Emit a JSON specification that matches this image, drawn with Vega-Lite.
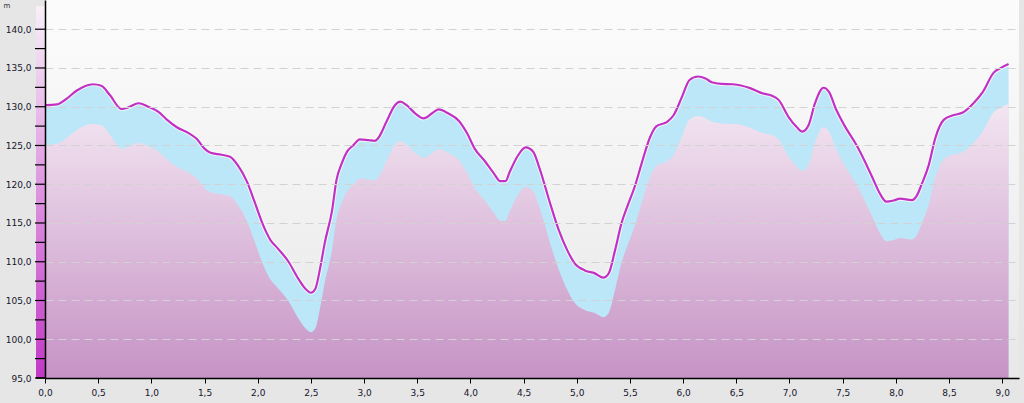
{
  "$schema": "https://vega.github.io/schema/vega-lite/v6.json",
  "width": 974,
  "height": 378,
  "autosize": {"type": "none"},
  "padding": {"left": 45, "top": 0, "right": 5, "bottom": 25},
  "background": "#e6e6e6",
  "config": {
    "locale": {"number": {"decimal": ",", "thousands": ".", "grouping": [3], "currency": ["", " €"]}},
    "view": {"stroke": null, "fill": {"gradient": "linear", "x1": 0, "y1": 0, "x2": 0, "y2": 1, "stops": [{"offset": 0, "color": "#fcfcfc"}, {"offset": 1, "color": "#e8e8e8"}]}}
  },
  "datasets": {
    "profile": [
      {"d":0.00,"upper":130.2,"lower":125.1},{"d":0.11,"upper":130.3,"lower":125.2},{"d":0.19,"upper":130.9,"lower":125.8},{"d":0.30,"upper":132.1,"lower":127.0},{"d":0.45,"upper":132.9,"lower":127.8},{"d":0.53,"upper":132.7,"lower":127.6},{"d":0.61,"upper":131.5,"lower":126.4},{"d":0.72,"upper":129.7,"lower":124.6},{"d":0.78,"upper":129.9,"lower":124.8},{"d":0.88,"upper":130.45,"lower":125.35},{"d":0.97,"upper":130.0,"lower":124.9},{"d":1.07,"upper":129.3,"lower":124.2},{"d":1.14,"upper":128.4,"lower":123.3},{"d":1.24,"upper":127.35,"lower":122.25},{"d":1.35,"upper":126.6,"lower":121.5},{"d":1.43,"upper":125.8,"lower":120.7},{"d":1.50,"upper":124.6,"lower":119.5},{"d":1.55,"upper":124.1,"lower":119.0},{"d":1.66,"upper":123.8,"lower":118.7},{"d":1.74,"upper":123.55,"lower":118.45},{"d":1.82,"upper":122.3,"lower":117.2},{"d":1.90,"upper":120.3,"lower":115.2},{"d":1.97,"upper":117.75,"lower":112.65},{"d":2.05,"upper":114.75,"lower":109.65},{"d":2.12,"upper":112.8,"lower":107.7},{"d":2.18,"upper":111.85,"lower":106.75},{"d":2.29,"upper":110.0,"lower":104.9},{"d":2.38,"upper":107.85,"lower":102.75},{"d":2.46,"upper":106.35,"lower":101.25},{"d":2.50,"upper":106.0,"lower":100.9},{"d":2.54,"upper":106.45,"lower":101.35},{"d":2.59,"upper":109.4,"lower":104.3},{"d":2.63,"upper":112.4,"lower":107.3},{"d":2.70,"upper":116.7,"lower":111.6},{"d":2.74,"upper":120.5,"lower":115.4},{"d":2.79,"upper":122.7,"lower":117.6},{"d":2.84,"upper":124.2,"lower":119.1},{"d":2.90,"upper":125.05,"lower":119.95},{"d":2.96,"upper":125.8,"lower":120.7},{"d":3.04,"upper":125.7,"lower":120.6},{"d":3.10,"upper":125.6,"lower":120.5},{"d":3.13,"upper":125.9,"lower":120.8},{"d":3.21,"upper":128.05,"lower":122.95},{"d":3.29,"upper":130.2,"lower":125.1},{"d":3.34,"upper":130.65,"lower":125.55},{"d":3.40,"upper":130.2,"lower":125.1},{"d":3.48,"upper":129.15,"lower":124.05},{"d":3.56,"upper":128.5,"lower":123.4},{"d":3.64,"upper":129.15,"lower":124.05},{"d":3.70,"upper":129.65,"lower":124.55},{"d":3.79,"upper":129.15,"lower":124.05},{"d":3.89,"upper":128.2,"lower":123.1},{"d":3.97,"upper":126.55,"lower":121.45},{"d":4.04,"upper":124.6,"lower":119.5},{"d":4.14,"upper":122.9,"lower":117.8},{"d":4.22,"upper":121.4,"lower":116.3},{"d":4.28,"upper":120.4,"lower":115.3},{"d":4.33,"upper":120.4,"lower":115.3},{"d":4.37,"upper":121.6,"lower":116.5},{"d":4.44,"upper":123.55,"lower":118.45},{"d":4.52,"upper":124.75,"lower":119.65},{"d":4.59,"upper":124.2,"lower":119.1},{"d":4.65,"upper":122.05,"lower":116.95},{"d":4.75,"upper":117.5,"lower":112.4},{"d":4.83,"upper":114.1,"lower":109.0},{"d":4.91,"upper":111.5,"lower":106.4},{"d":4.98,"upper":109.8,"lower":104.7},{"d":5.08,"upper":108.85,"lower":103.75},{"d":5.17,"upper":108.5,"lower":103.4},{"d":5.25,"upper":107.95,"lower":102.85},{"d":5.30,"upper":108.5,"lower":103.4},{"d":5.36,"upper":111.5,"lower":106.4},{"d":5.42,"upper":114.95,"lower":109.85},{"d":5.48,"upper":117.3,"lower":112.2},{"d":5.55,"upper":119.9,"lower":114.8},{"d":5.61,"upper":122.7,"lower":117.6},{"d":5.69,"upper":126.1,"lower":121.0},{"d":5.75,"upper":127.5,"lower":122.4},{"d":5.85,"upper":128.05,"lower":122.95},{"d":5.91,"upper":128.9,"lower":123.8},{"d":5.99,"upper":131.3,"lower":126.2},{"d":6.06,"upper":133.45,"lower":128.35},{"d":6.14,"upper":133.9,"lower":128.8},{"d":6.21,"upper":133.65,"lower":128.55},{"d":6.27,"upper":133.15,"lower":128.05},{"d":6.36,"upper":132.95,"lower":127.85},{"d":6.47,"upper":132.9,"lower":127.8},{"d":6.63,"upper":132.4,"lower":127.3},{"d":6.74,"upper":131.75,"lower":126.65},{"d":6.83,"upper":131.45,"lower":126.35},{"d":6.90,"upper":130.85,"lower":125.75},{"d":6.99,"upper":128.7,"lower":123.6},{"d":7.07,"upper":127.35,"lower":122.25},{"d":7.12,"upper":126.8,"lower":121.7},{"d":7.18,"upper":127.65,"lower":122.55},{"d":7.24,"upper":130.45,"lower":125.35},{"d":7.32,"upper":132.45,"lower":127.35},{"d":7.37,"upper":131.95,"lower":126.85},{"d":7.44,"upper":129.6,"lower":124.5},{"d":7.52,"upper":127.5,"lower":122.4},{"d":7.63,"upper":125.05,"lower":119.95},{"d":7.71,"upper":122.9,"lower":117.8},{"d":7.79,"upper":120.55,"lower":115.45},{"d":7.85,"upper":118.8,"lower":113.7},{"d":7.91,"upper":117.75,"lower":112.65},{"d":7.98,"upper":117.9,"lower":112.8},{"d":8.04,"upper":118.15,"lower":113.05},{"d":8.15,"upper":117.95,"lower":112.85},{"d":8.20,"upper":118.6,"lower":113.5},{"d":8.24,"upper":119.9,"lower":114.8},{"d":8.31,"upper":122.5,"lower":117.4},{"d":8.37,"upper":125.9,"lower":120.8},{"d":8.45,"upper":128.3,"lower":123.2},{"d":8.54,"upper":128.9,"lower":123.8},{"d":8.63,"upper":129.25,"lower":124.15},{"d":8.73,"upper":130.45,"lower":125.35},{"d":8.82,"upper":131.95,"lower":126.85},{"d":8.92,"upper":134.4,"lower":129.3},{"d":8.98,"upper":134.95,"lower":129.85},{"d":9.06,"upper":135.5,"lower":130.4}
    ],
    "yticks": [
      {"t":95},{"t":97.5},{"t":100},{"t":102.5},{"t":105},{"t":107.5},{"t":110},{"t":112.5},{"t":115},{"t":117.5},{"t":120},{"t":122.5},{"t":125},{"t":127.5},{"t":130},{"t":132.5},{"t":135},{"t":137.5},{"t":140}
    ]
  },
  "data": {"name": "profile"},
  "layer": [
    {
      "data": {"values": [{}]},
      "mark": {"type": "rect", "color": {"gradient": "linear", "x1": 0, "y1": 0, "x2": 0, "y2": 1, "stops": [{"offset": 0, "color": "#f8f0f8"}, {"offset": 1, "color": "#c238c6"}]}},
      "encoding": {
        "x": {"datum": -0.0846, "type": "quantitative", "scale": {"domain": [0, 9.158], "nice": false, "zero": false},
          "axis": {"values": [0,0.5,1,1.5,2,2.5,3,3.5,4,4.5,5,5.5,6,6.5,7,7.5,8,8.5,9], "format": ".1f", "title": null, "grid": false, "ticks": true, "tickSize": 5, "tickWidth": 1, "tickColor": "#000000", "domainColor": "#000000", "domainWidth": 1.5, "labelFont": "DejaVu Sans", "labelFontSize": 9, "labelColor": "#15152a", "labelPadding": 5, "labelFlush": false, "zindex": 2}},
        "x2": {"datum": 0},
        "y": {"datum": 95, "type": "quantitative", "scale": {"domain": [95, 143.77], "nice": false, "zero": false},
          "axis": {"values": [95,97.5,100,102.5,105,107.5,110,112.5,115,117.5,120,122.5,125,127.5,130,132.5,135,137.5,140], "format": ".1f", "grid": true, "gridColor": "#d2d2d2", "gridDash": [8, 5], "ticks": false, "domainColor": "#000000", "domainWidth": 1.5, "labelFont": "DejaVu Sans", "labelFontSize": 9, "labelColor": "#15152a", "labelPadding": 14, "labelFlush": false, "title": "m", "titleAngle": 0, "titleX": -42, "titleY": 7, "titleFont": "DejaVu Sans", "titleFontSize": 7, "titleFontWeight": "normal", "titleColor": "#333333", "titleAlign": "left", "titleBaseline": "alphabetic", "zindex": 2}},
        "y2": {"datum": 142.95}
      }
    },
    {
      "mark": {"type": "area", "color": "#bbe7f8", "interpolate": "monotone"},
      "encoding": {
        "x": {"field": "d", "type": "quantitative"},
        "y": {"field": "upper", "type": "quantitative"},
        "y2": {"datum": 95}
      }
    },
    {
      "mark": {"type": "area", "interpolate": "monotone", "color": {"gradient": "linear", "x1": 0, "y1": 0, "x2": 0, "y2": 1, "stops": [{"offset": 0, "color": "#f3e6f2"}, {"offset": 1, "color": "#c693c5"}]}},
      "encoding": {
        "x": {"field": "d", "type": "quantitative"},
        "y": {"field": "lower", "type": "quantitative"},
        "y2": {"datum": 95}
      }
    },
    {
      "data": {"name": "yticks"},
      "mark": {"type": "rule", "color": "#000000", "strokeWidth": 1.2, "zindex": 5},
      "encoding": {
        "x": {"datum": -0.094},
        "x2": {"datum": 0},
        "y": {"field": "t", "type": "quantitative"}
      }
    },
    {
      "data": {"values": [{}]},
      "mark": {"type": "rule", "color": "#000000", "strokeWidth": 1.5, "zindex": 5},
      "encoding": {
        "x": {"datum": -0.0846},
        "x2": {"datum": 0},
        "y": {"datum": 95}
      }
    },
    {
      "mark": {"type": "line", "color": "#ffffff", "strokeWidth": 4.2, "opacity": 0.75, "interpolate": "monotone", "zindex": 3},
      "encoding": {
        "x": {"field": "d", "type": "quantitative"},
        "y": {"field": "upper", "type": "quantitative"}
      }
    },
    {
      "mark": {"type": "line", "color": "#c231c3", "strokeWidth": 2.2, "interpolate": "monotone", "zindex": 4},
      "encoding": {
        "x": {"field": "d", "type": "quantitative"},
        "y": {"field": "upper", "type": "quantitative"}
      }
    }
  ]
}
